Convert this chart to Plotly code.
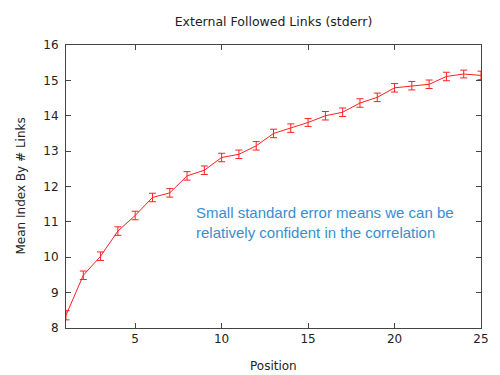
import plotly.graph_objects as go

positions = list(range(1, 26))
mean_index = [8.36, 9.49, 10.03, 10.74, 11.18, 11.69, 11.82, 12.30, 12.46, 12.82,
              12.91, 13.15, 13.50, 13.65, 13.81, 14.00, 14.10, 14.36, 14.52, 14.79,
              14.85, 14.89, 15.11, 15.18, 15.14]
stderr = [0.13, 0.12, 0.12, 0.12, 0.12, 0.12, 0.12, 0.12, 0.12, 0.12,
          0.12, 0.12, 0.12, 0.12, 0.11, 0.12, 0.12, 0.12, 0.12, 0.12,
          0.12, 0.12, 0.12, 0.11, 0.12]
x_ticks = [5, 10, 15, 20, 25]
y_ticks = [8, 9, 10, 11, 12, 13, 14, 15, 16]

red = "#ff2020"
fig = go.Figure()
fig.add_trace(go.Scatter(
    x=positions, y=mean_index, mode="lines",
    line=dict(color=red, width=1),
    error_y=dict(type="data", array=stderr, visible=True, color=red,
                 thickness=1, width=3.5),
    showlegend=False,
))

font = dict(family="DejaVu Sans", size=12, color="#222")
axis_common = dict(showline=True, linecolor="#444", linewidth=1, mirror="ticks",
                   ticks="inside", ticklen=5, tickcolor="#444", tickwidth=1,
                   showgrid=False, zeroline=False, tickfont=font)
pw, ph = 415, 282.7
fig.update_layout(
    width=500, height=375,
    margin=dict(l=66, r=19, t=45, b=47.3),
    paper_bgcolor="white", plot_bgcolor="white",
    title=dict(text="External Followed Links (stderr)", x=0.5, xref="paper",
               y=1 - 22 / 375, yref="container", yanchor="middle",
               font=dict(family="DejaVu Sans", size=12.5, color="#222")),
    xaxis=dict(range=[1, 25], tickvals=x_ticks, **axis_common),
    yaxis=dict(range=[8, 16], tickvals=y_ticks, ticklabelstandoff=4, **axis_common),
    annotations=[
        dict(text="Position", xref="paper", yref="paper", x=0.5, y=-38 / ph,
             yanchor="middle", showarrow=False, font=font),
        dict(text="Mean Index By # Links", xref="paper", yref="paper",
             x=-46 / pw, y=0.5, textangle=-90, xanchor="center", showarrow=False,
             font=font),
        dict(text="Small standard error means we can be<br>relatively confident in the correlation",
             xref="paper", yref="paper", x=(194 - 66) / pw, y=(327.7 - 202) / ph,
             xanchor="left", yanchor="top", align="left", showarrow=False,
             font=dict(family="Liberation Sans", size=15, color="#3a8dcf")),
    ],
)
fig.write_html("out.html", post_script="document.body.style.margin='0';",
               config={"displayModeBar": False})
